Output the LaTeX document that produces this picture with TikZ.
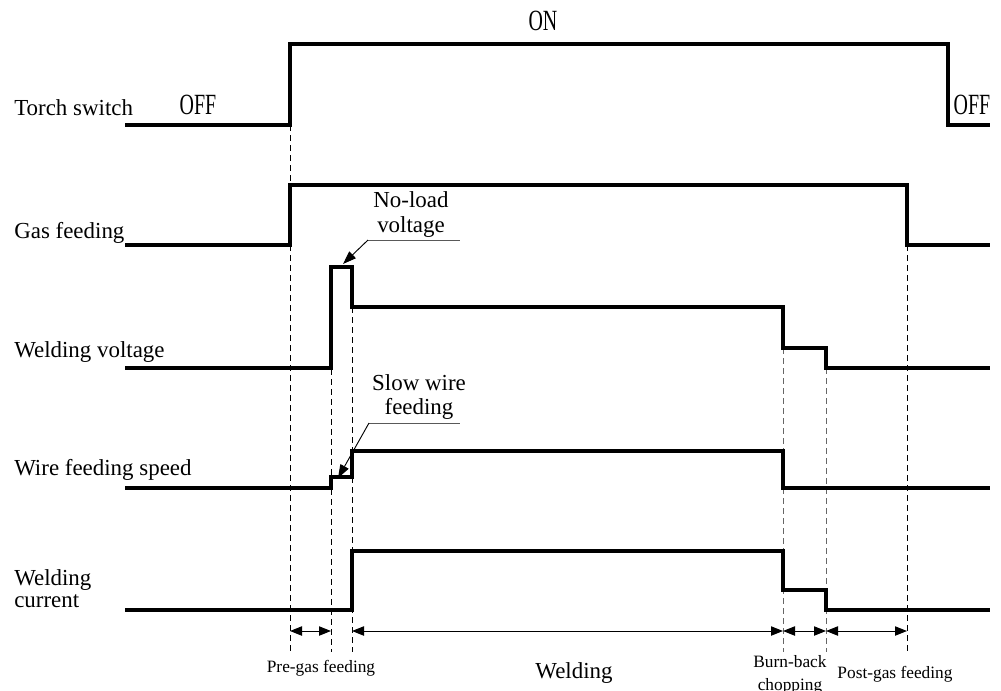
\documentclass[tikz,border=0pt]{standalone}
\usepackage{fontspec}
\setmainfont{Liberation Serif}
\newfontfamily\narrowfont[FakeStretch=0.68]{Liberation Serif}
\usetikzlibrary{arrows.meta}
\begin{document}
\begin{tikzpicture}[x=0.75pt,y=-0.75pt,
  sig/.style={line width=2.6pt,line join=miter},
  guide/.style={line width=0.75pt,dash pattern=on 4.5pt off 3pt},
  span/.style={line width=0.75pt,{Triangle[length=9pt,width=7pt]}-{Triangle[length=9pt,width=7pt]}},
  callout/.style={line width=0.7pt,draw=black!65},
  callarrow/.style={line width=0.7pt,-{Triangle[length=10pt,width=7pt]}},
  lbl/.style={font=\fontsize{17.2pt}{20pt}\selectfont,inner sep=0pt,anchor=base west},
  anno/.style={font=\fontsize{17.2pt}{19pt}\selectfont,inner sep=0pt,anchor=base,align=center},
  small/.style={font=\fontsize{13pt}{15pt}\selectfont,inner sep=0pt,anchor=base},
  state/.style={font=\narrowfont\fontsize{22pt}{24pt}\selectfont,inner sep=0pt,anchor=base}]
\useasboundingbox (0,0) rectangle (1001,690);

% row labels
\node[lbl] (tsw) at (14,115) {Torch switch};
\node[lbl] (gas) at (14,238) {Gas feeding};
\node[lbl] (wv) at (14,357) {Welding voltage};
\node[lbl] (wfs) at (14,475) {Wire feeding speed};
\node[lbl] (wc1) at (14,585) {Welding};
\node[lbl] (wc2) at (14,607) {current};

% state texts
\node[state] (on) at (543,30) {ON};
\node[state] (offl) at (198,114) {OFF};
\node[state] (offr) at (972,114) {OFF};

% guide lines
\foreach \n/\x/\t in {a/290/125, b/331/369, c/352/307, d/783/348, e/826/368, f/907/245}{
  \coordinate (\n top) at (\x,\t);
  \coordinate (\n bot) at (\x,652);
  \coordinate (\n arr) at (\x,631);
}
\draw[guide] (atop) -- (abot);
\draw[guide] (btop) -- (bbot);
\draw[guide] (ctop) -- (cbot);
\draw[guide,draw=black!60] (dtop) -- (dbot);
\draw[guide,draw=black!60] (etop) -- (ebot);
\draw[guide] (ftop) -- (fbot);

% signals
\draw[sig] (125,125) -- (290,125) -- (290,44) -- (948,44) -- (948,125) -- (990,125);
\draw[sig] (125,245) -- (290,245) -- (290,185) -- (907,185) -- (907,245) -- (990,245);
\draw[sig] (125,368) -- (331,368) -- (331,267) -- (352,267) -- (352,307) -- (783,307) -- (783,348) -- (826,348) -- (826,368) -- (990,368);
\draw[sig] (125,488) -- (331,488) -- (331,477) -- (352,477) -- (352,451) -- (783,451) -- (783,488) -- (990,488);
\draw[sig] (125,610) -- (352,610) -- (352,551) -- (783,551) -- (783,590) -- (826,590) -- (826,610) -- (990,610);

% callouts
\node[anno] (nl1) at (411,207) {No-load};
\node[anno] (nl2) at (411,232) {voltage};
\coordinate (nlA) at (368,240);
\coordinate (nlB) at (460,240);
\coordinate (nlT) at (343,264);
\draw[callout] (nlA) -- (nlB);
\draw[callarrow] (nlA) -- (nlT);

\node[anno] (sw1) at (419,390) {Slow wire};
\node[anno] (sw2) at (419,414) {feeding};
\coordinate (swA) at (369,423);
\coordinate (swB) at (460,423);
\coordinate (swT) at (338,478);
\draw[callout] (swA) -- (swB);
\draw[callarrow] (swA) -- (swT);

% spans
\draw[span] (aarr) -- (barr);
\draw[span] (carr) -- (darr);
\draw[span] (darr) -- (earr);
\draw[span] (earr) -- (farr);

% phase labels
\node[small] (pre) at (321,672) {Pre-gas feeding};
\node[anno] (weld) at (574,678) {Welding};
\node[small] (bb1) at (790,667) {Burn-back};
\node[small] (bb2) at (790,690) {chopping};
\node[small] (post) at (895,678) {Post-gas feeding};
\end{tikzpicture}
\end{document}
